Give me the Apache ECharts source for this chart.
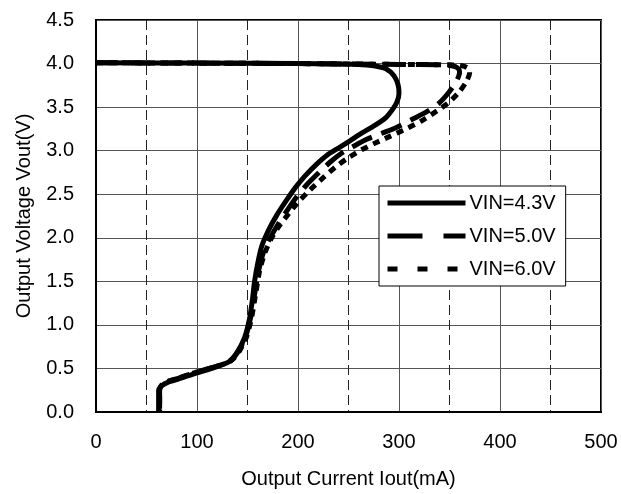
<!DOCTYPE html>
<html>
<head>
<meta charset="utf-8">
<script src="https://cdn.jsdelivr.net/npm/echarts@6/dist/echarts.min.js"></script>
<style>
html,body{margin:0;padding:0;background:#fff;}
#chart{width:621px;height:494px;}
</style>
</head>
<body>
<div id="chart"></div>
<script>
// Output current (mA) and output voltage (V) for each input voltage
var current43 = [0, 100, 200, 260, 275, 287, 295, 299, 300, 298, 294, 287, 276, 263, 251, 240, 229, 218, 207, 197, 188, 179, 171, 164, 160, 157, 155, 152, 147, 140, 132, 117, 100, 82, 71, 65, 62, 62];
var voltage43 = [4.01, 4.005, 4.0, 3.99, 3.975, 3.94, 3.86, 3.76, 3.66, 3.56, 3.48, 3.38, 3.29, 3.2, 3.11, 3.03, 2.95, 2.84, 2.71, 2.57, 2.42, 2.26, 2.09, 1.9, 1.7, 1.5, 1.3, 1.07, 0.85, 0.69, 0.58, 0.51, 0.45, 0.38, 0.34, 0.3, 0.25, 0.0];

var current50 = [0, 100, 200, 300, 340, 352, 358, 360, 357, 350, 340, 328, 313, 298, 283, 268, 255, 243, 232, 220, 208, 198, 189, 180, 172, 166, 161, 157, 153, 148, 141, 133, 118, 100, 82, 71, 65, 63, 63];
var voltage50 = [4.01, 4.005, 4.0, 3.99, 3.985, 3.975, 3.95, 3.9, 3.8, 3.68, 3.55, 3.45, 3.36, 3.27, 3.2, 3.13, 3.05, 2.97, 2.87, 2.74, 2.6, 2.46, 2.31, 2.15, 1.99, 1.84, 1.62, 1.35, 1.08, 0.86, 0.7, 0.59, 0.52, 0.46, 0.39, 0.35, 0.31, 0.25, 0.0];

var current60 = [0, 100, 200, 300, 350, 362, 368, 370, 367, 360, 350, 338, 322, 307, 292, 277, 263, 250, 238, 225, 212, 201, 191, 181, 173, 167, 162, 158, 154, 149, 142, 134, 118, 100, 82, 71, 65, 63, 63];
var voltage60 = [4.01, 4.005, 4.0, 3.99, 3.985, 3.975, 3.95, 3.9, 3.8, 3.68, 3.56, 3.46, 3.34, 3.25, 3.17, 3.09, 3.01, 2.92, 2.82, 2.69, 2.55, 2.42, 2.28, 2.13, 1.98, 1.82, 1.62, 1.35, 1.08, 0.86, 0.7, 0.59, 0.52, 0.46, 0.39, 0.35, 0.31, 0.25, 0.0];

var seriesNames = ['VIN=4.3V', 'VIN=5.0V', 'VIN=6.0V'];
var xTicks = [0, 100, 200, 300, 400, 500];
var yTicks = [0, 0.5, 1.0, 1.5, 2.0, 2.5, 3.0, 3.5, 4.0, 4.5];

function pairs(xs, ys) {
  var out = [];
  for (var i = 0; i < xs.length; i++) out.push([xs[i], ys[i]]);
  return out;
}

var FONT = 'Liberation Sans, Arial, sans-serif';
var chart = echarts.init(document.getElementById('chart'));
var lineTypes = ['solid', [22, 10], [7, 6]];
var legendTypes = ['solid', [35, 21], [10, 20]];
var datas = [pairs(current43, voltage43), pairs(current50, voltage50), pairs(current60, voltage60)];

chart.setOption({
  animation: false,
  backgroundColor: '#fff',
  grid: { left: 96, right: 20, top: 20, bottom: 76, show: true, borderColor: '#000', borderWidth: 2, backgroundColor: 'transparent' },
  legend: {
    data: seriesNames.map(function (n, i) {
      return { name: n, lineStyle: { type: legendTypes[i], width: 5, color: '#000', cap: 'butt' } };
    }),
    orient: 'vertical',
    left: 379, top: 186,
    padding: [7, 10, 7, 6],
    itemGap: 13,
    itemWidth: 78, itemHeight: 20,
    backgroundColor: '#fff',
    borderColor: '#000',
    borderWidth: 1,
    borderRadius: 0,
    itemStyle: { opacity: 0 },
    lineStyle: { width: 5, color: '#000' },
    textStyle: { fontFamily: FONT, fontSize: 20, color: '#000', padding: [0, 0, 0, -1] }
  },
  xAxis: {
    type: 'value', min: xTicks[0], max: xTicks[xTicks.length - 1], interval: 100,
    name: 'Output Current Iout(mA)', nameLocation: 'middle', nameGap: 57,
    nameTextStyle: { fontFamily: FONT, fontSize: 20, color: '#000' },
    axisLine: { show: true, lineStyle: { color: '#000', width: 2 } },
    axisTick: { show: false },
    axisLabel: { fontFamily: FONT, fontSize: 20, color: '#000', margin: 20 },
    splitLine: { show: true, lineStyle: { color: '#555', width: 1, type: 'solid' } },
    minorTick: { show: false, splitNumber: 2 },
    minorSplitLine: { show: true, lineStyle: { color: '#222', width: 1, type: [10, 5] } }
  },
  yAxis: {
    type: 'value', min: yTicks[0], max: yTicks[yTicks.length - 1], interval: 0.5,
    name: 'Output Voltage Vout(V)', nameLocation: 'middle', nameGap: 62,
    nameTextStyle: { fontFamily: FONT, fontSize: 20, color: '#000' },
    axisLine: { show: true, lineStyle: { color: '#000', width: 2 } },
    axisTick: { show: false },
    axisLabel: { fontFamily: FONT, fontSize: 20, color: '#000', margin: 22, formatter: function (v) { return v.toFixed(1); } },
    splitLine: { show: true, lineStyle: { color: '#555', width: 1 } }
  },
  series: seriesNames.map(function (n, i) {
    return {
      name: n, type: 'line', data: datas[i], showSymbol: false, symbol: 'none', smooth: 0.25,
      lineStyle: { color: '#000', width: 5, type: lineTypes[i], cap: 'butt', join: 'round' },
      itemStyle: { color: '#000' },
      z: 3 - i
    };
  })
});
</script>
</body>
</html>
